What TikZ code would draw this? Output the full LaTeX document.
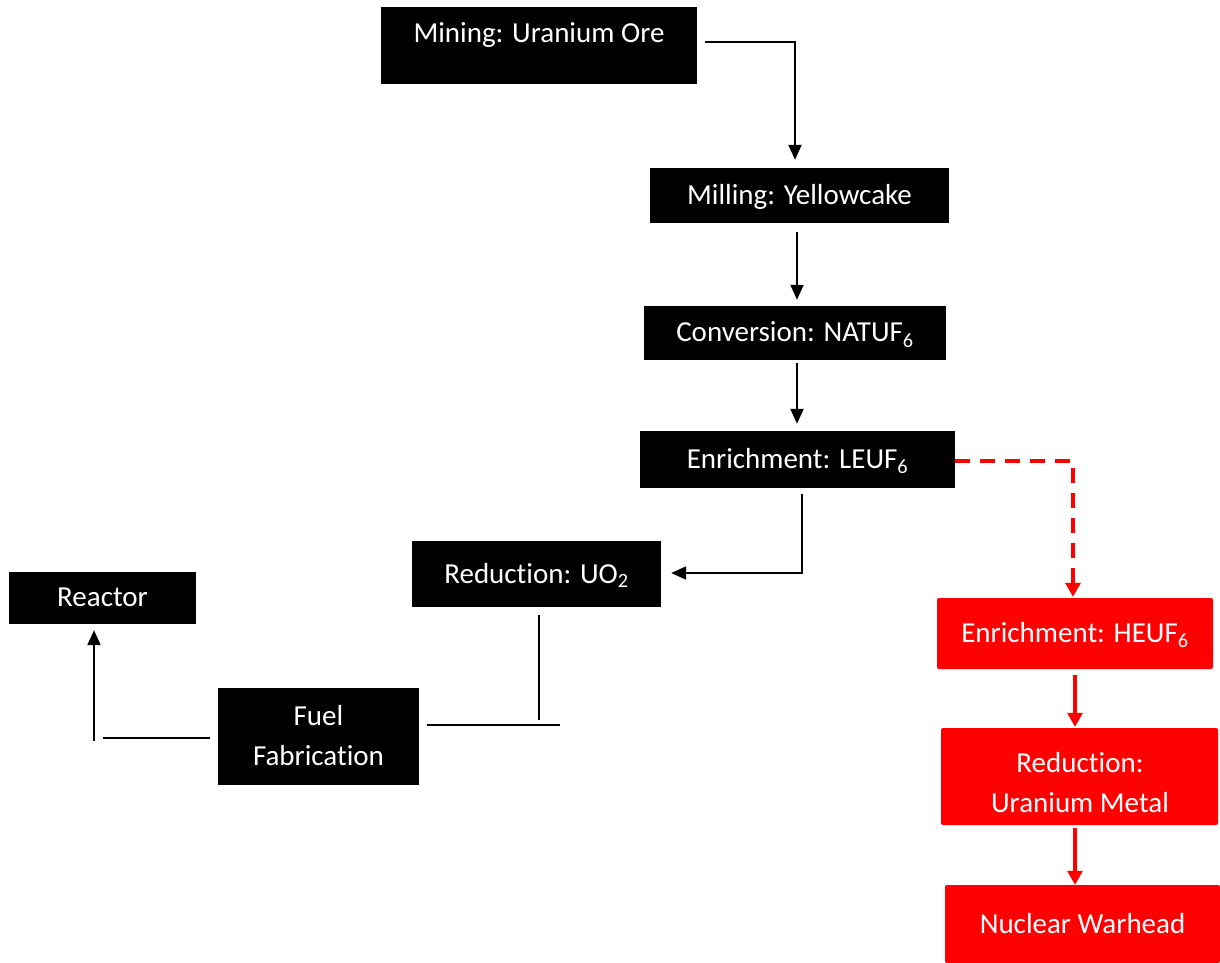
\documentclass[tikz,border=0pt]{standalone}
\usepackage{fontspec}
\setmainfont{Carlito}[Ligatures=NoCommon]
\usetikzlibrary{arrows.meta,calc}
\begin{document}
\begin{tikzpicture}[x=1pt,y=-1pt,
  lbl/.style={text=white,font=\fontsize{29}{40}\selectfont,align=center,inner sep=0pt},
  box/.style={lbl,fill=black,draw=none,text depth=2pt},
  rbox/.style={box,fill=red,rounded corners=2pt},
  con/.style={line width=2pt},
  arr/.style={con,-{Triangle[length=15pt,width=13pt]}},
  rarr/.style={red,line width=3.2pt,-{Triangle[length=14pt,width=15pt]}},
  rdash/.style={rarr,dash pattern=on 15pt off 10pt},
]
\useasboundingbox (0,0) rectangle (1220,963);

% boxes
\node[box,minimum width=316pt,minimum height=77pt] (mining) at (539,45.5) {};
\node[lbl] (miningtxt) at (539,35) {Mining: Uranium Ore};
\node[box,minimum width=299pt,minimum height=55pt] (milling) at (799.5,195.5) {Milling: Yellowcake};
\node[box,minimum width=302pt,minimum height=54pt] (conv) at (795,333) {Conversion: NATUF\textsubscript{6}};
\node[box,minimum width=315pt,minimum height=57pt] (leu) at (797.5,459.5) {Enrichment: LEUF\textsubscript{6}};
\node[box,minimum width=249pt,minimum height=66pt] (uo2) at (536.5,574) {Reduction: UO\textsubscript{2}};
\node[box,minimum width=187pt,minimum height=52pt] (reactor) at (102.5,598) {Reactor};
\node[box,minimum width=201pt,minimum height=97pt] (fuel) at (318.5,736.5) {Fuel\\Fabrication};
\node[rbox,minimum width=276pt,minimum height=71pt] (heu) at (1075,633.5) {Enrichment: HEUF\textsubscript{6}};
\node[rbox,minimum width=277pt,minimum height=97pt] (metal) at (1079.5,776.5) {};
\node[lbl] (metaltxt) at (1080,783) {Reduction:\\Uranium Metal};
\node[rbox,minimum width=275pt,minimum height=78pt] (warhead) at (1082.5,924) {Nuclear Warhead};

% black connectors
\draw[arr] ([xshift=8pt,yshift=3.5pt]mining.east) -| ([xshift=-4.5pt,yshift=8pt]milling.north);
\draw[arr] ([xshift=-2.5pt,yshift=-9pt]milling.south) -- ([xshift=2pt,yshift=6pt]conv.north);
\draw[arr] ([xshift=2pt,yshift=-3pt]conv.south) -- ([xshift=-0.5pt,yshift=7pt]leu.north);
\draw[arr] ([xshift=4.5pt,yshift=-6pt]leu.south) |- ([xshift=10pt,yshift=1pt]uo2.east);

% Reduction -> Fuel Fabrication
\coordinate (uo2foot) at ([xshift=2.5pt,yshift=-113pt]uo2.south);
\coordinate (fuelfar) at ([xshift=141pt,yshift=11.5pt]fuel.east);
\draw[con] ([xshift=2.5pt,yshift=-8pt]uo2.south) -- (uo2foot);
\draw[con] ([xshift=8pt,yshift=11.5pt]fuel.east) -- (fuelfar);

% Fuel Fabrication -> Reactor
\coordinate (fuelleft) at ([xshift=-115pt,yshift=-1.5pt]fuel.west);
\coordinate (reactorfoot) at ([xshift=-8.5pt,yshift=-117pt]reactor.south);
\draw[con] ([xshift=-8pt,yshift=-1.5pt]fuel.west) -- (fuelleft);
\draw[arr] (reactorfoot) -- ([xshift=-8.5pt,yshift=-6pt]reactor.south);

% red connectors
\draw[rdash] ([yshift=-1.5pt]leu.east) -| ([xshift=-2pt,yshift=1pt]heu.north);
\draw[rarr] ([yshift=-6pt]heu.south) -- ([xshift=-4.5pt,yshift=1pt]metal.north);
\draw[rarr] ([xshift=-4.5pt,yshift=-3pt]metal.south) -- ([xshift=-7.5pt]warhead.north);
\end{tikzpicture}
\end{document}
